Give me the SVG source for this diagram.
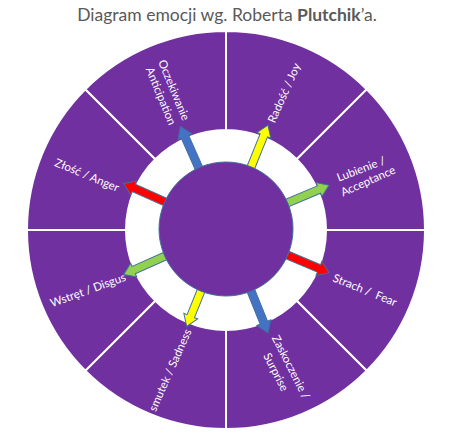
<svg xmlns="http://www.w3.org/2000/svg" width="455" height="435" viewBox="0 0 455 435">
<style>
.sec{fill:#7030A0;stroke:#FFFFFF;stroke-width:2}
.lbl{font-family:Lato,"Open Sans","Liberation Sans",sans-serif;font-size:11.5px;fill:#FFFFFF;text-anchor:middle}
.title{font-family:Lato,"Open Sans","Liberation Sans",sans-serif;font-size:17.5px;fill:#595959;text-anchor:middle}
.arr{stroke:#41719C;stroke-width:1;stroke-linejoin:miter}
</style>
<defs>
<path id="arrow" d="M55,-4 H101 V-7.5 L112,0 L101,7.5 V4 H55 Z"/>
</defs>
<rect width="455" height="435" fill="#FFFFFF"/>
<text class="title" x="227" y="21">Diagram emocji wg. Roberta <tspan font-weight="bold">Plutchik</tspan>’a.</text>

<g id="radosc">
<path class="sec" d="M226,31 A199,199 0 0 1 366.7,89.3 L296.7,159.3 A100,100 0 0 0 226,130 Z"/>
<text class="lbl" transform="translate(284,93) rotate(-66)" dy="0.35em">Radość / Joy</text>
</g>
<g id="lubienie">
<path class="sec" d="M366.7,89.3 A199,199 0 0 1 425,230 L326,230 A100,100 0 0 0 296.7,159.3 Z"/>
<text class="lbl" transform="translate(361,169) rotate(-21)" dy="0.35em">Lubienie /</text>
<text class="lbl" transform="translate(368,181) rotate(-24)" dy="0.35em">Acceptance</text>
</g>
<g id="strach">
<path class="sec" d="M425,230 A199,199 0 0 1 366.7,370.7 L296.7,300.7 A100,100 0 0 0 326,230 Z"/>
<text class="lbl" transform="translate(365,290) rotate(22)" dy="0.35em" xml:space="preserve">Strach /  Fear</text>
</g>
<g id="zaskoczenie">
<path class="sec" d="M366.7,370.7 A199,199 0 0 1 226,429 L226,330 A100,100 0 0 0 296.7,300.7 Z"/>
<text class="lbl" transform="translate(291,367) rotate(63)" dy="0.35em">Zaskoczenie /</text>
<text class="lbl" transform="translate(276,372) rotate(63)" dy="0.35em">Surprise</text>
</g>
<g id="smutek">
<path class="sec" d="M226,429 A199,199 0 0 1 85.3,370.7 L155.3,300.7 A100,100 0 0 0 226,330 Z"/>
<text class="lbl" transform="translate(170,370) rotate(-66)" dy="0.35em">smutek / Sadness</text>
</g>
<g id="wstret">
<path class="sec" d="M85.3,370.7 A199,199 0 0 1 27,230 L126,230 A100,100 0 0 0 155.3,300.7 Z"/>
<text class="lbl" transform="translate(88,290) rotate(-20)" dy="0.35em">Wstręt / Disgus</text>
</g>
<g id="zlosc">
<path class="sec" d="M27,230 A199,199 0 0 1 85.3,89.3 L155.3,159.3 A100,100 0 0 0 126,230 Z"/>
<text class="lbl" transform="translate(87,175) rotate(22.5)" dy="0.35em">Złość / Anger</text>
</g>
<g id="oczekiwanie">
<path class="sec" d="M85.3,89.3 A199,199 0 0 1 226,31 L226,130 A100,100 0 0 0 155.3,159.3 Z"/>
<text class="lbl" transform="translate(174,90) rotate(67.5)" dy="0.35em">Oczekiwanie</text>
<text class="lbl" transform="translate(161,96) rotate(67.5)" dy="0.35em">Anticipation</text>
</g>

<g id="connectors">
<use href="#arrow" class="arr" fill="#4472C4" transform="translate(226,229) rotate(-114)"/>
<use href="#arrow" class="arr" fill="#FFFF00" transform="translate(226,229) rotate(-68)"/>
<use href="#arrow" class="arr" fill="#92D050" transform="translate(226,229) rotate(-23)"/>
<use href="#arrow" class="arr" fill="#FF0000" transform="translate(226,229) rotate(23)"/>
<use href="#arrow" class="arr" fill="#4472C4" transform="translate(226,229) rotate(68)"/>
<use href="#arrow" class="arr" fill="#FFFF00" transform="translate(226,229) rotate(112) translate(-7,0)"/>
<use href="#arrow" class="arr" fill="#92D050" transform="translate(226,229) rotate(156)"/>
<use href="#arrow" class="arr" fill="#FF0000" transform="translate(226,229) rotate(-156)"/>
</g>

<g id="center">
<circle cx="226" cy="229" r="67" fill="#7030A0" stroke="#41719C" stroke-width="1"/>
</g>
</svg>
